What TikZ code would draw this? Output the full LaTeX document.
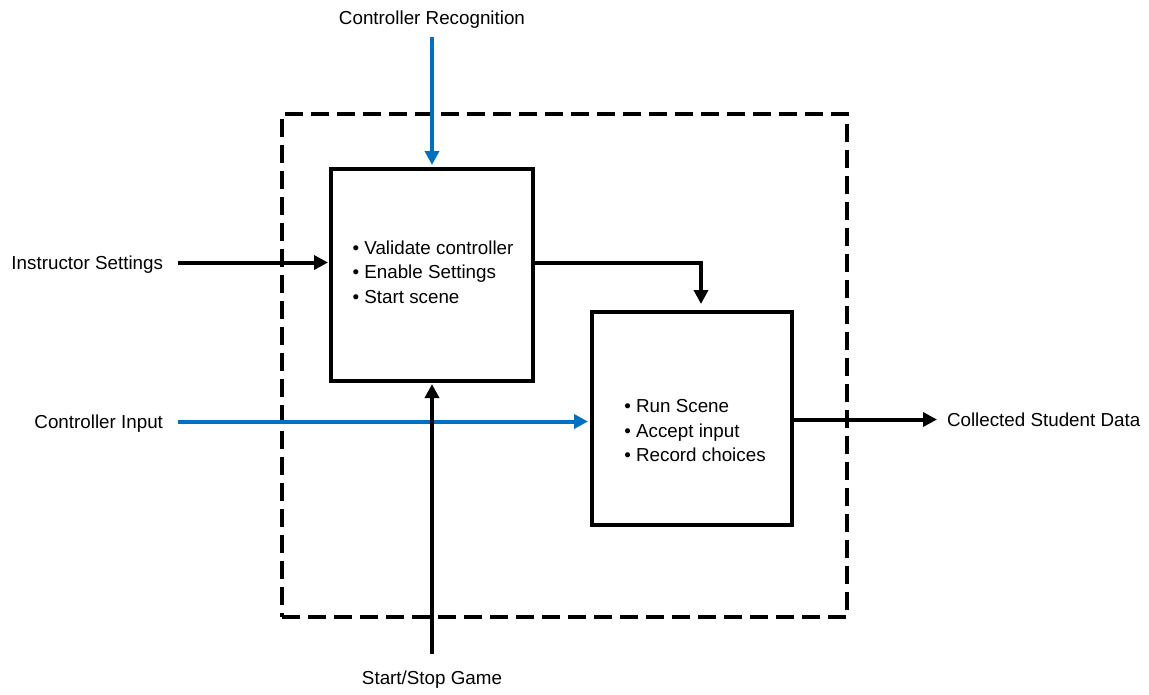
\documentclass[tikz,border=0pt]{standalone}
\usepackage{fontspec}
\setmainfont{Liberation Sans}
\usetikzlibrary{arrows.meta}
\definecolor{flowblue}{RGB}{0,112,192}
\begin{document}
\begin{tikzpicture}[x=1pt,y=-1pt,
  lbl/.style={inner sep=0pt, outer sep=0pt, font=\fontsize{18.8}{24.5}\selectfont},
  ext/.style={lbl, text height=13.5pt, text depth=0pt},
  blist/.style={lbl, align=left},
  stage/.style={draw, line width=4pt, inner sep=0pt},
  flow/.style={line width=4pt, -{Triangle[length=14pt,width=14pt]}},
  sigflow/.style={flow, draw=flowblue},
  boundary/.style={draw, line width=4pt, dash pattern=on 18pt off 8pt, inner sep=0pt}
]
\useasboundingbox (0,0) rectangle (1149,694);

% system boundary
\node[boundary, minimum width=565pt, minimum height=503pt] (sys) at (564.5,365.5) {};

% processing stages
\node[stage, minimum width=202pt, minimum height=212pt] (setup) at (432,275) {};
\node[stage, minimum width=200pt, minimum height=213pt] (play) at (692,418.5) {};

\node[blist] (setuptext) at (433,272) {• Validate controller\\• Enable Settings\\• Start scene};
\node[blist] (playtext) at (695,431) {• Run Scene\\• Accept input\\• Record choices};

% external inputs and outputs
\node[ext] (recog) at (432,18) {Controller Recognition};
\node[ext, anchor=east] (instr) at (163,262.5) {Instructor Settings};
\node[ext, anchor=east] (cinput) at (163,421.5) {Controller Input};
\node[ext] (startstop) at (432,678) {Start/Stop Game};
\node[ext, anchor=west] (collected) at (947,419.5) {Collected Student Data};

% connectors
\draw[sigflow, shorten <=12pt, shorten >=2pt] (recog.south) -- (setup.north);
\draw[flow, shorten <=15pt, shorten >=1pt] (instr.east) -- (instr.east -| setup.west);
\draw[flow, shorten >=6pt] ([yshift=12pt]setup.east) -| ([xshift=9pt]play.north);
\draw[sigflow, shorten <=15pt, shorten >=2pt] (cinput.east) -- (cinput.east -| play.west);
\draw[flow, shorten <=17pt, shorten >=1pt] (startstop.north) -- (setup.south);
\draw[flow, shorten >=10pt] (collected.west -| play.east) -- (collected.west);
\end{tikzpicture}
\end{document}
